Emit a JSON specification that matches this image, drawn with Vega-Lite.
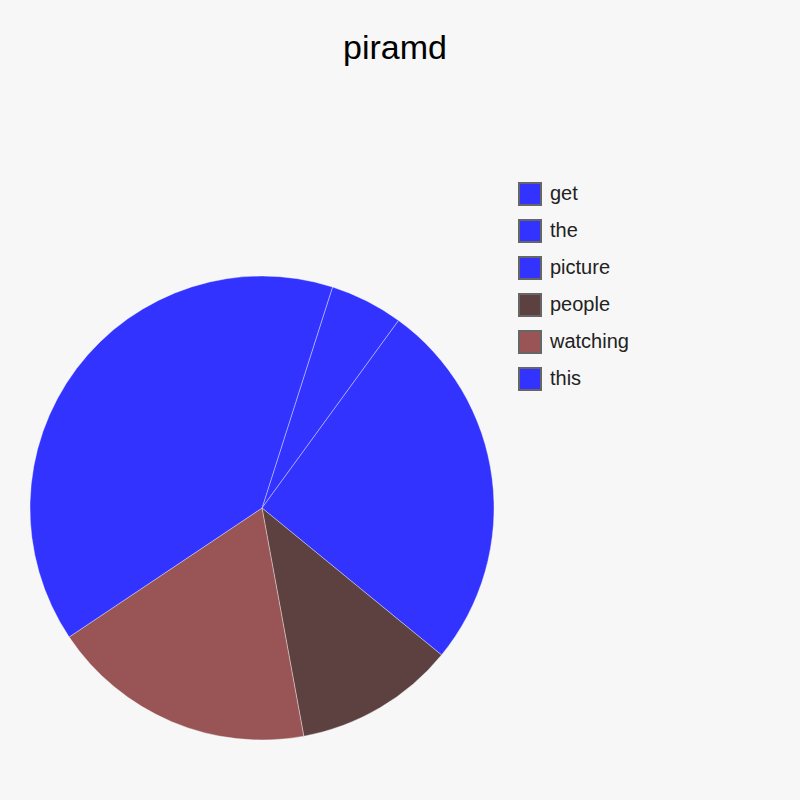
{
  "$schema": "https://vega.github.io/schema/vega-lite/v6.json",
  "width": 464,
  "height": 464,
  "autosize": "none",
  "padding": {"left": 30, "top": 276, "right": 306, "bottom": 60},
  "background": "#f7f7f7",
  "title": {
    "text": "piramd",
    "fontSize": 34,
    "font": "Liberation Sans",
    "fontWeight": "normal",
    "color": "#000000",
    "anchor": "middle",
    "dx": 133,
    "offset": 116
  },
  "data": {
    "values": [
      {"label": "get", "value": 0, "order": 1},
      {"label": "the", "value": 5.1, "order": 2},
      {"label": "picture", "value": 25.9, "order": 3},
      {"label": "people", "value": 11.2, "order": 4},
      {"label": "watching", "value": 18.5, "order": 5},
      {"label": "this", "value": 39.3, "order": 6}
    ]
  },
  "mark": {"type": "arc", "stroke": "#ffffff", "strokeWidth": 0.6, "strokeOpacity": 0.6},
  "encoding": {
    "theta": {
      "field": "value",
      "type": "quantitative",
      "stack": true,
      "scale": {"range": [0.309, 6.592]}
    },
    "order": {"field": "order", "type": "quantitative"},
    "color": {
      "field": "label",
      "type": "nominal",
      "sort": ["get", "the", "picture", "people", "watching", "this"],
      "scale": {
        "domain": ["get", "the", "picture", "people", "watching", "this"],
        "range": ["#3333ff", "#3333ff", "#3333ff", "#5d4040", "#995555", "#3333ff"]
      },
      "legend": {
        "title": null,
        "orient": "none",
        "legendX": 488,
        "legendY": -94,
        "symbolType": "square",
        "symbolSize": 484,
        "symbolStrokeColor": "#666666",
        "symbolStrokeWidth": 2,
        "symbolOpacity": 1,
        "labelFont": "Liberation Sans",
        "labelFontSize": 20,
        "labelColor": "#222222",
        "labelOffset": 8,
        "rowPadding": 7
      }
    }
  },
  "config": {"view": {"stroke": null}}
}
